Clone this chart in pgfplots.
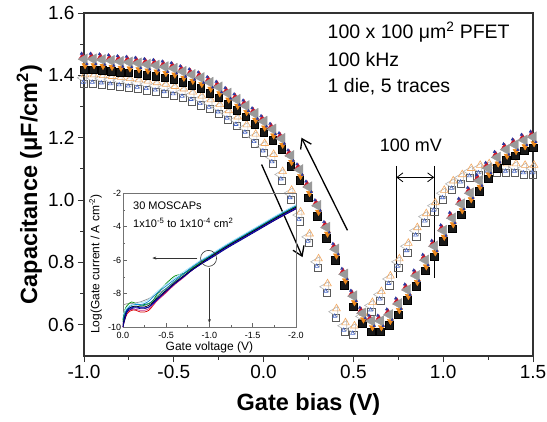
\documentclass[border=0pt]{standalone}
\usepackage{fontspec}
\setmainfont{Liberation Sans}
\usepackage{pgfplots}
\pgfplotsset{compat=1.18}
\usepackage{pgfplotstable}
\usetikzlibrary{arrows.meta}
\definecolor{cvred}{HTML}{D01828}
\definecolor{cvblue}{HTML}{2838A0}
\definecolor{cvorange}{HTML}{F08A1C}
\definecolor{cvgray}{HTML}{9A9A9A}
\definecolor{opsq}{HTML}{5A5A5A}
\definecolor{opred}{HTML}{D84040}
\definecolor{opblue}{HTML}{4868C8}
\definecolor{oporange}{HTML}{F2A860}
\definecolor{opgray}{HTML}{B4B4B4}

\pgfplotstableread{
x F O
-1.00 1.440 1.390
-0.95 1.440 1.390
-0.90 1.438 1.388
-0.85 1.435 1.385
-0.80 1.432 1.382
-0.75 1.430 1.378
-0.70 1.427 1.374
-0.65 1.423 1.370
-0.60 1.420 1.365
-0.55 1.415 1.360
-0.50 1.410 1.353
-0.45 1.400 1.345
-0.40 1.390 1.335
-0.35 1.380 1.322
-0.30 1.365 1.310
-0.25 1.350 1.295
-0.20 1.330 1.275
-0.15 1.310 1.255
-0.10 1.290 1.230
-0.05 1.265 1.200
0.00 1.240 1.170
0.05 1.215 1.135
0.10 1.185 1.080
0.15 1.130 1.020
0.20 1.085 0.950
0.25 1.030 0.880
0.30 0.970 0.800
0.35 0.900 0.720
0.40 0.830 0.640
0.45 0.750 0.595
0.50 0.680 0.585
0.55 0.625 0.625
0.60 0.600 0.660
0.65 0.600 0.695
0.70 0.620 0.745
0.75 0.655 0.800
0.80 0.700 0.850
0.85 0.745 0.900
0.90 0.795 0.945
0.95 0.840 0.980
1.00 0.890 1.020
1.05 0.930 1.050
1.10 0.975 1.070
1.15 1.010 1.090
1.20 1.050 1.100
1.25 1.090 1.105
1.30 1.125 1.105
1.35 1.150 1.105
1.40 1.165 1.105
1.45 1.180 1.100
1.50 1.190 1.100
}\cvdata

\begin{document}
\begin{tikzpicture}
\begin{axis}[
  scale only axis, width=449pt, height=343pt,
  xmin=-1, xmax=1.5, ymin=0.5, ymax=1.6,
  xtick={-1,-0.5,0,0.5,1,1.5}, ytick={0.6,0.8,1.0,1.2,1.4,1.6},
  minor x tick num=1, minor y tick num=1,
  tick pos=left, tick align=outside,
  major tick length=6pt, minor tick length=3.5pt,
  tick style={black!80, line width=0.9pt},
  axis line style={black!80, line width=1.1pt},
  /pgf/number format/assume math mode=true,
  xticklabel style={/pgf/number format/.cd, fixed, fixed zerofill, precision=1},
  yticklabel style={/pgf/number format/.cd, fixed, fixed zerofill, precision=1},
  ticklabel style={font=\fontsize{19}{22}\selectfont},
  xlabel={Gate bias (V)},
  ylabel={Capacitance (μF/cm\textsuperscript{2})},
  label style={font=\bfseries\fontsize{23.5}{27}\selectfont},
  xlabel style={at={(axis description cs:0.5,0)}, yshift=-48pt, anchor=center},
  ylabel style={at={(axis description cs:-0.122,0.5)}, anchor=center},
  clip=false,
]
\coordinate (O) at (rel axis cs:0,0);
\coordinate (I) at (axis cs:-0.7833,0.5928);
% open-marker traces
\addplot[only marks, mark=square, mark size=3.6pt, mark options={line width=0.6pt, draw=opsq}] table[x=x, y expr=\thisrow{O}-0.018]{\cvdata};
\addplot[only marks, mark=triangle, mark size=6pt, mark options={line width=0.6pt, draw=opgray, fill=white, fill opacity=0.6, rotate=90}] table[x expr=\thisrow{x}-0.004, y expr=\thisrow{O}+0.002]{\cvdata};
\addplot[only marks, mark=triangle, mark size=4.4pt, mark options={line width=0.6pt, draw=oporange}] table[x expr=\thisrow{x}+0.006, y expr=\thisrow{O}+0.012]{\cvdata};
\addplot[only marks, mark=circle, mark size=2.8pt, mark options={line width=0.6pt, draw=opred}] table[x=x, y expr=\thisrow{O}+0.002]{\cvdata};
\addplot[only marks, mark=triangle, mark size=2.3pt, mark options={line width=0.6pt, draw=opblue}] table[x expr=\thisrow{x}-0.004, y expr=\thisrow{O}-0.012]{\cvdata};
% filled-marker traces
\addplot[only marks, mark=square*, mark size=3.8pt, mark options={draw=black, fill=black!90}] table[x=x, y expr=\thisrow{F}-0.022]{\cvdata};
\addplot[only marks, mark=triangle*, mark size=4.5pt, mark options={draw=cvred, fill=cvred}] table[x expr=\thisrow{x}-0.008, y expr=\thisrow{F}+0.018]{\cvdata};
\addplot[only marks, mark=triangle*, mark size=3.6pt, mark options={draw=cvorange, fill=cvorange, rotate=180}] table[x expr=\thisrow{x}+0.006, y expr=\thisrow{F}-0.008]{\cvdata};
\addplot[only marks, mark=triangle*, mark size=6.2pt, mark options={draw=cvgray, fill=cvgray, rotate=90}] table[x expr=\thisrow{x}+0.002, y expr=\thisrow{F}+0.012]{\cvdata};
\addplot[only marks, mark=triangle*, mark size=1.6pt, mark options={draw=cvblue, fill=cvblue}] table[x expr=\thisrow{x}-0.014, y expr=\thisrow{F}+0.03]{\cvdata};
\addplot[only marks, mark=triangle*, mark size=1.4pt, mark options={draw=cvblue, fill=cvblue}] table[x expr=\thisrow{x}+0.016, y expr=\thisrow{F}-0.004]{\cvdata};
% annotations
\draw[black, line width=1.3pt, -{Straight Barb[length=9pt,width=12pt,line width=1.3pt]}] (axis cs:0.467,0.903) -- (axis cs:0.211,1.200);
\draw[black, line width=1.3pt, -{Straight Barb[length=9pt,width=12pt,line width=1.3pt]}] (axis cs:-0.011,1.114) -- (axis cs:0.217,0.817);
\draw[black, line width=1.2pt] (axis cs:0.739,1.11) -- (axis cs:0.739,0.75);
\draw[black, line width=1.2pt] (axis cs:0.950,1.11) -- (axis cs:0.950,0.75);
\draw[black, line width=0.8pt, {Straight Barb[length=6pt,width=9pt,line width=0.8pt]}-{Straight Barb[length=6pt,width=9pt,line width=0.8pt]}] (axis cs:0.739,1.073) -- (axis cs:0.950,1.073);
\node[anchor=base, inner sep=0pt, font=\fontsize{18}{21}\selectfont] at (axis cs:0.82,1.157) {100 mV};
\node[anchor=base west, inner sep=0pt, font=\fontsize{19.5}{23}\selectfont] at (axis cs:0.356,1.5176) {100 x 100 μm\textsuperscript{2} PFET};
\node[anchor=base west, inner sep=0pt, font=\fontsize{19.5}{23}\selectfont] at (axis cs:0.356,1.428) {100 kHz};
\node[anchor=base west, inner sep=0pt, font=\fontsize{19.5}{23}\selectfont] at (axis cs:0.356,1.345) {1 die, 5 traces};
\end{axis}

\begin{axis}[
  at={(I)}, anchor=south west,
  scale only axis, width=173pt, height=134pt,
  xmin=-2, xmax=0, x dir=reverse, ymin=-10, ymax=-2,
  xtick={-2,-1.5,-1,-0.5,0}, xticklabels={-2.0,-1.5,-1.0,-0.5,0.0},
  ytick={-10,-8,-6,-4,-2}, yticklabels={-10,-8,-6,-4,-2},
  minor x tick num=1, minor y tick num=1,
  tick pos=left, tick align=inside,
  major tick length=4pt, minor tick length=2.5pt,
  axis line style={draw=black!55, line width=0.8pt},
  tick style={black!60, line width=0.6pt},
  xticklabel style={font=\fontsize{9}{10}\selectfont, inner sep=1pt, yshift=-4pt},
  yticklabel style={font=\fontsize{9}{10}\selectfont, inner sep=1.5pt},
  xlabel={Gate voltage (V)},
  ylabel={Log(Gate current / A cm\textsuperscript{-2})},
  label style={font=\fontsize{12}{14}\selectfont},
  xlabel style={at={(axis description cs:0.5,0)}, yshift=-20pt, anchor=center},
  ylabel style={at={(axis description cs:-0.158,0.47)}, anchor=center},
  clip=false,
]
\addplot[smooth, line width=0.7pt, color=black!45] coordinates {(0,-8.7) (-0.02,-8.65) (-0.05,-8.6) (-0.1,-8.6) (-0.15,-8.55) (-0.2,-8.5) (-0.25,-8.4) (-0.3,-8.3) (-0.35,-8.15) (-0.4,-8.0) (-0.5,-7.7) (-0.6,-7.3) (-0.7,-6.95) (-0.8,-6.55) (-0.9,-6.2) (-1.0,-5.85) (-1.2,-5.2) (-1.4,-4.6) (-1.6,-4.0) (-1.8,-3.45) (-2.0,-2.9)};
\addplot[smooth, line width=0.7pt, color=red!85!black] coordinates {(0,-10) (-0.02,-9.6) (-0.05,-9.2) (-0.1,-9.0) (-0.15,-9.0) (-0.2,-9.1) (-0.25,-9.1) (-0.3,-9.0) (-0.35,-8.7) (-0.4,-8.4) (-0.5,-7.9) (-0.6,-7.45) (-0.7,-7.0) (-0.8,-6.6) (-0.9,-6.2) (-1.0,-5.85) (-1.2,-5.2) (-1.4,-4.6) (-1.6,-4.0) (-1.8,-3.4) (-2.0,-2.85)};
\addplot[smooth, line width=0.7pt, color=magenta!80!black] coordinates {(0,-9.8) (-0.02,-9.4) (-0.05,-9.1) (-0.1,-8.95) (-0.15,-8.95) (-0.2,-9.0) (-0.25,-9.0) (-0.3,-8.9) (-0.35,-8.65) (-0.4,-8.4) (-0.5,-7.95) (-0.6,-7.45) (-0.7,-7.05) (-0.8,-6.6) (-0.9,-6.25) (-1.0,-5.9) (-1.2,-5.25) (-1.4,-4.65) (-1.6,-4.05) (-1.8,-3.5) (-2.0,-2.95)};
\addplot[smooth, line width=0.7pt, color=green!55!black] coordinates {(0,-9.6) (-0.02,-9.0) (-0.05,-8.7) (-0.1,-8.5) (-0.15,-8.6) (-0.2,-8.7) (-0.25,-8.65) (-0.3,-8.6) (-0.35,-8.4) (-0.4,-8.0) (-0.5,-7.4) (-0.6,-6.95) (-0.7,-6.8) (-0.8,-6.5) (-0.9,-6.15) (-1.0,-5.8) (-1.2,-5.15) (-1.4,-4.55) (-1.6,-3.95) (-1.8,-3.35) (-2.0,-2.8)};
\addplot[smooth, line width=0.7pt, color=cyan!70!blue] coordinates {(0,-9.5) (-0.02,-9.2) (-0.05,-8.9) (-0.1,-8.7) (-0.15,-8.65) (-0.2,-8.65) (-0.25,-8.6) (-0.3,-8.45) (-0.35,-8.2) (-0.4,-7.95) (-0.5,-7.55) (-0.6,-7.15) (-0.7,-6.8) (-0.8,-6.4) (-0.9,-6.05) (-1.0,-5.75) (-1.2,-5.1) (-1.4,-4.5) (-1.6,-3.9) (-1.8,-3.3) (-2.0,-2.75)};
\addplot[smooth, line width=0.7pt, color=cyan!35] coordinates {(0,-9.3) (-0.02,-9.0) (-0.05,-8.8) (-0.1,-8.65) (-0.15,-8.6) (-0.2,-8.55) (-0.25,-8.5) (-0.3,-8.35) (-0.35,-8.1) (-0.4,-7.85) (-0.5,-7.45) (-0.6,-7.05) (-0.7,-6.7) (-0.8,-6.35) (-0.9,-6.0) (-1.0,-5.7) (-1.2,-5.05) (-1.4,-4.45) (-1.6,-3.85) (-1.8,-3.25) (-2.0,-2.7)};
\addplot[smooth, line width=0.7pt, color=teal] coordinates {(0,-9.7) (-0.02,-9.3) (-0.05,-8.95) (-0.1,-8.8) (-0.15,-8.75) (-0.2,-8.75) (-0.25,-8.7) (-0.3,-8.6) (-0.35,-8.4) (-0.4,-8.15) (-0.5,-7.7) (-0.6,-7.25) (-0.7,-6.85) (-0.8,-6.45) (-0.9,-6.1) (-1.0,-5.8) (-1.2,-5.15) (-1.4,-4.55) (-1.6,-3.95) (-1.8,-3.35) (-2.0,-2.8)};
\addplot[smooth, line width=0.7pt, color=black] coordinates {(0,-9.9) (-0.02,-9.4) (-0.05,-9.0) (-0.1,-8.8) (-0.15,-8.75) (-0.2,-8.8) (-0.25,-8.8) (-0.3,-8.7) (-0.35,-8.5) (-0.4,-8.25) (-0.5,-7.8) (-0.6,-7.35) (-0.7,-6.95) (-0.8,-6.55) (-0.9,-6.2) (-1.0,-5.85) (-1.2,-5.2) (-1.4,-4.6) (-1.6,-4.0) (-1.8,-3.4) (-2.0,-2.85)};
\addplot[smooth, line width=0.7pt, color=blue!80!black] coordinates {(0,-10) (-0.02,-9.5) (-0.05,-9.0) (-0.1,-8.85) (-0.15,-8.8) (-0.2,-8.85) (-0.25,-8.85) (-0.3,-8.8) (-0.35,-8.6) (-0.4,-8.35) (-0.5,-7.85) (-0.6,-7.4) (-0.7,-7.0) (-0.8,-6.6) (-0.9,-6.25) (-1.0,-5.9) (-1.2,-5.25) (-1.4,-4.65) (-1.6,-4.05) (-1.8,-3.45) (-2.0,-2.9)};
\addplot[smooth, line width=0.7pt, color=blue!50!black] coordinates {(0,-10) (-0.02,-9.6) (-0.05,-9.1) (-0.1,-8.9) (-0.15,-8.85) (-0.2,-8.9) (-0.25,-8.9) (-0.3,-8.8) (-0.35,-8.55) (-0.4,-8.3) (-0.5,-7.85) (-0.6,-7.4) (-0.7,-7.0) (-0.8,-6.6) (-0.9,-6.25) (-1.0,-5.95) (-1.2,-5.3) (-1.4,-4.7) (-1.6,-4.1) (-1.8,-3.5) (-2.0,-2.95)};
\draw[line width=0.6pt, black!80] (axis cs:-0.99,-5.9) circle (8pt);
\draw[line width=0.6pt, black!80, -{Stealth[length=4pt,width=3pt]}] (axis cs:-0.86,-5.88) -- (axis cs:-0.34,-5.88);
\draw[line width=0.6pt, black!80, -{Stealth[length=4pt,width=3pt]}] (axis cs:-1.0,-6.48) -- (axis cs:-1.0,-9.76);
\node[anchor=base west, inner sep=0pt, font=\fontsize{11}{13}\selectfont] at (axis cs:-0.116,-3.01) {30 MOSCAPs};
\node[anchor=base west, inner sep=0pt, font=\fontsize{11}{13}\selectfont] at (axis cs:-0.116,-4.03) {1x10\textsuperscript{-5} to 1x10\textsuperscript{-4} cm\textsuperscript{2}};
\end{axis}
\pgfresetboundingbox
\path[use as bounding box] (O) ++(-84pt,-65pt) rectangle ++(547pt,421pt);
\end{tikzpicture}
\end{document}
